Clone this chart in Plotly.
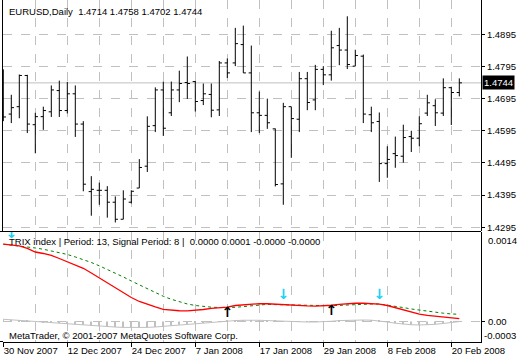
import plotly.graph_objects as go

# ---------------- data ----------------
DATES = [
    "2007.11.30",
    "2007.12.03", "2007.12.04", "2007.12.05", "2007.12.06", "2007.12.07",
    "2007.12.10", "2007.12.11", "2007.12.12", "2007.12.13", "2007.12.14",
    "2007.12.17", "2007.12.18", "2007.12.19", "2007.12.20", "2007.12.21",
    "2007.12.24", "2007.12.26", "2007.12.27", "2007.12.28", "2007.12.31",
    "2008.01.02", "2008.01.03", "2008.01.04",
    "2008.01.07", "2008.01.08", "2008.01.09", "2008.01.10", "2008.01.11",
    "2008.01.14", "2008.01.15", "2008.01.16", "2008.01.17", "2008.01.18",
    "2008.01.21", "2008.01.22", "2008.01.23", "2008.01.24", "2008.01.25",
    "2008.01.28", "2008.01.29", "2008.01.30", "2008.01.31", "2008.02.01",
    "2008.02.04", "2008.02.05", "2008.02.06", "2008.02.07", "2008.02.08",
    "2008.02.11", "2008.02.12", "2008.02.13", "2008.02.14", "2008.02.15",
    "2008.02.18", "2008.02.19", "2008.02.20", "2008.02.21",
]
OPEN = [1.4638, 1.4647, 1.4670, 1.4767, 1.4614, 1.4639, 1.4654, 1.4720, 1.4658, 1.4710,
        1.4616, 1.4406, 1.4410, 1.4410, 1.4373, 1.4320, 1.4373, 1.4417, 1.4485, 1.4611,
        1.4722, 1.4651, 1.4722, 1.4745, 1.4748, 1.4689, 1.4708, 1.4660, 1.4806, 1.4806,
        1.4863, 1.4775, 1.4651, 1.4643, 1.4601, 1.4430, 1.4670, 1.4631, 1.4757, 1.4691,
        1.4786, 1.4769, 1.4860, 1.4846, 1.4796, 1.4827, 1.4645, 1.4624, 1.4493, 1.4524,
        1.4516, 1.4577, 1.4572, 1.4650, 1.4673, 1.4650, 1.4729, 1.4714]
HIGH = [1.4786, 1.4707, 1.4770, 1.4769, 1.4651, 1.4670, 1.4736, 1.4751, 1.4747, 1.4736,
        1.4625, 1.4454, 1.4434, 1.4423, 1.4391, 1.4410, 1.4410, 1.4507, 1.4640, 1.4730,
        1.4748, 1.4748, 1.4782, 1.4826, 1.4750, 1.4742, 1.4742, 1.4812, 1.4820, 1.4915,
        1.4922, 1.4860, 1.4717, 1.4695, 1.4602, 1.4682, 1.4670, 1.4778, 1.4778, 1.4800,
        1.4796, 1.4906, 1.4915, 1.4951, 1.4847, 1.4832, 1.4670, 1.4652, 1.4547, 1.4577,
        1.4614, 1.4595, 1.4640, 1.4707, 1.4693, 1.4758, 1.4732, 1.4758]
LOW = [1.4625, 1.4619, 1.4634, 1.4588, 1.4525, 1.4598, 1.4638, 1.4638, 1.4649, 1.4576,
       1.4407, 1.4331, 1.4365, 1.4325, 1.4310, 1.4320, 1.4369, 1.4417, 1.4467, 1.4591,
       1.4579, 1.4641, 1.4684, 1.4694, 1.4655, 1.4675, 1.4637, 1.4641, 1.4759, 1.4796,
       1.4775, 1.4591, 1.4588, 1.4601, 1.4422, 1.4365, 1.4511, 1.4591, 1.4659, 1.4659,
       1.4737, 1.4751, 1.4799, 1.4787, 1.4796, 1.4619, 1.4591, 1.4436, 1.4449, 1.4480,
       1.4496, 1.4529, 1.4547, 1.4641, 1.4610, 1.4641, 1.4613, 1.4702]
CLOSE = [1.4638, 1.4667, 1.4767, 1.4616, 1.4639, 1.4658, 1.4722, 1.4658, 1.4710, 1.4616,
         1.4429, 1.4413, 1.4410, 1.4373, 1.4320, 1.4383, 1.4407, 1.4481, 1.4609, 1.4722,
         1.4603, 1.4722, 1.4742, 1.4742, 1.4686, 1.4710, 1.4659, 1.4806, 1.4775, 1.4866,
         1.4775, 1.4651, 1.4643, 1.4620, 1.4428, 1.4670, 1.4633, 1.4757, 1.4683, 1.4786,
         1.4769, 1.4853, 1.4846, 1.4801, 1.4829, 1.4647, 1.4620, 1.4493, 1.4506, 1.4518,
         1.4574, 1.4572, 1.4617, 1.4682, 1.4651, 1.4729, 1.4714, 1.4744]

TRIX = [0.001205, 0.001193, 0.001180, 0.001138, 0.001083, 0.001060, 0.001029, 0.000982,
        0.000932, 0.000881, 0.000829, 0.000756, 0.000678, 0.000600, 0.000530, 0.000452,
        0.000374, 0.000312, 0.000265, 0.000226, 0.000190, 0.000175, 0.000167, 0.000164,
        0.000171, 0.000187, 0.000203, 0.000214, 0.000223, 0.000249, 0.000260, 0.000270,
        0.000277, 0.000276, 0.000268, 0.000259, 0.000251, 0.000245, 0.000242, 0.000240,
        0.000242, 0.000253, 0.000267, 0.000279, 0.000284, 0.000284, 0.000281, 0.000271,
        0.000249, 0.000217, 0.000179, 0.000143, 0.000114, 0.000094, 0.000083, 0.000070,
        0.000055, 0.000045]
SIGNAL = [0.001205, 0.001193, 0.001180, 0.001166, 0.001146, 0.001126, 0.001102, 0.001076,
          0.001045, 0.001006, 0.000967, 0.000920, 0.000868, 0.000814, 0.000756, 0.000694,
          0.000631, 0.000569, 0.000507, 0.000447, 0.000393, 0.000346, 0.000304, 0.000273,
          0.000249, 0.000234, 0.000223, 0.000217, 0.000215, 0.000221, 0.000232, 0.000243,
          0.000254, 0.000267, 0.000263, 0.000260, 0.000257, 0.000253, 0.000248, 0.000245,
          0.000243, 0.000245, 0.000251, 0.000259, 0.000265, 0.000270, 0.000273, 0.000273,
          0.000257, 0.000239, 0.000217, 0.000195, 0.000176, 0.000159, 0.000143, 0.000129,
          0.000117, 0.000112]
HIST = [0.000034, 0.000028, 0.000020, 0.000011, 0.000000, -0.000009, -0.000019, -0.000028,
        -0.000037, -0.000047, -0.000056, -0.000065, -0.000073, -0.000081, -0.000087, -0.000092,
        -0.000095, -0.000095, -0.000092, -0.000086, -0.000076, -0.000065, -0.000053, -0.000039,
        -0.000027, -0.000016, -0.000006, 0.000002, 0.000008, 0.000014, 0.000019, 0.000022,
        0.000019, 0.000014, 0.000008, 0.000003, -0.000002, -0.000005, -0.000008, -0.000008,
        -0.000005, 0.000003, 0.000014, 0.000020, 0.000023, 0.000023, 0.000020, 0.000011,
        -0.000008, -0.000027, -0.000044, -0.000051, -0.000055, -0.000051, -0.000044, -0.000031,
        -0.000016, -0.000002]

DOWN_ARROW_IDX = [1, 35, 47]
DOWN_ARROW_VAL = [0.00135, 0.00040, 0.00040]
UP_ARROW_IDX = [28, 41]
UP_ARROW_VAL = [0.00012, 0.00015]

PRICE_TICKS = [1.4295, 1.4395, 1.4495, 1.4595, 1.4695, 1.4795, 1.4895]
DATE_TICK_LABELS = ["30 Nov 2007", "12 Dec 2007", "24 Dec 2007", "7 Jan 2008",
                    "17 Jan 2008", "29 Jan 2008", "8 Feb 2008", "20 Feb 2008"]
IND_LABELS = ["0.0014", "0.00", "-0.0003"]

# ---------------- layout geometry ----------------
W, H = 520, 360
FONT = "Liberation Sans"
FS = 9.5
X_LEFT_PX, X_RIGHT_PX = 3, 481
BAR_PX = 8.0
FIRST_BAR_PX = 3.3
xr = [-(FIRST_BAR_PX - X_LEFT_PX) / BAR_PX, (X_RIGHT_PX - FIRST_BAR_PX) / BAR_PX]
xdom = [X_LEFT_PX / W, X_RIGHT_PX / W]

MAIN_TOP, MAIN_BOT = 0, 231
IND_TOP, IND_BOT = 232, 342
main_dom = [1 - MAIN_BOT / H, 1 - MAIN_TOP / H]
ind_dom = [1 - IND_BOT / H, 1 - IND_TOP / H]
main_range = [1.4895 - (MAIN_BOT - 34.3) / 3216.7, 1.4895 + 34.3 / 3216.7]
ind_range = [-0.00032, 0.001395]

GRID = "#c0c0c0"

fig = go.Figure()

fig.add_trace(go.Ohlc(
    x=DATES, open=OPEN, high=HIGH, low=LOW, close=CLOSE,
    increasing=dict(line=dict(color="black", width=1)),
    decreasing=dict(line=dict(color="black", width=1)),
    tickwidth=0.33, xaxis="x", yaxis="y", showlegend=False, hoverinfo="skip",
))

fig.add_trace(go.Bar(
    x=DATES, y=HIST, width=0.13, marker=dict(color=GRID, line=dict(width=0)),
    xaxis="x2", yaxis="y2", showlegend=False, hoverinfo="skip",
))
fig.add_trace(go.Scatter(
    x=DATES, y=HIST, mode="lines", line=dict(color=GRID, width=1),
    xaxis="x3", yaxis="y2", showlegend=False, hoverinfo="skip",
))
fig.add_trace(go.Scatter(
    x=DATES, y=SIGNAL, mode="lines", line=dict(color="#008000", width=1, dash="3px,3px"),
    xaxis="x2", yaxis="y2", showlegend=False, hoverinfo="skip",
))
fig.add_trace(go.Scatter(
    x=DATES, y=TRIX, mode="lines", line=dict(color="#ff0000", width=1.3),
    xaxis="x2", yaxis="y2", showlegend=False, hoverinfo="skip",
))
fig.add_trace(go.Scatter(
    x=[DATES[i] for i in DOWN_ARROW_IDX], y=DOWN_ARROW_VAL, mode="text",
    text=["<b>↓</b>"] * len(DOWN_ARROW_IDX),
    textfont=dict(family="DejaVu Sans", size=14, color="#19d2f5"),
    xaxis="x2", yaxis="y2", showlegend=False, hoverinfo="skip",
))
fig.add_trace(go.Scatter(
    x=[DATES[i] for i in UP_ARROW_IDX], y=UP_ARROW_VAL, mode="text",
    text=["<b>↑</b>"] * len(UP_ARROW_IDX),
    textfont=dict(family="DejaVu Sans", size=14, color="black"),
    xaxis="x2", yaxis="y2", showlegend=False, hoverinfo="skip",
))

axis_common = dict(type="category", range=xr, domain=xdom, fixedrange=True, automargin=False)

fig.update_layout(
    width=W, height=H,
    margin=dict(l=0, r=0, t=0, b=0, autoexpand=False),
    paper_bgcolor="white", plot_bgcolor="white",
    font=dict(family=FONT, size=FS, color="black"),
    showlegend=False,
    xaxis=dict(**axis_common, anchor="y", tickvals=DATES[4::4], showticklabels=False,
               ticks="", showgrid=True, gridcolor=GRID, griddash="dash", gridwidth=1,
               showline=False, zeroline=False, rangeslider=dict(visible=False)),
    yaxis=dict(domain=main_dom, range=main_range, side="right", anchor="x",
               tickvals=PRICE_TICKS, tickformat=".4f", ticks="outside", ticklen=3,
               tickcolor="black", showgrid=True, gridcolor=GRID, griddash="dash",
               showline=True, linecolor="black", linewidth=1, zeroline=False,
               automargin=False,
               tickfont=dict(family=FONT, size=FS, color="black"), fixedrange=True),
    xaxis2=dict(**axis_common, anchor="y2", tickvals=DATES[4::4], showticklabels=False,
                ticks="", showgrid=True, gridcolor=GRID, griddash="dash",
                showline=True, linecolor="black", linewidth=1, zeroline=False),
    xaxis3=dict(type="category", range=xr, overlaying="x2", anchor="y2", side="bottom",
                tickvals=DATES[0::8], ticktext=DATE_TICK_LABELS, ticks="outside",
                ticklen=4, tickcolor="black", ticklabelposition="outside right",
                tickangle=0, automargin=False,
                showgrid=False, showline=False, zeroline=False,
                tickfont=dict(family=FONT, size=FS, color="black"), fixedrange=True),
    yaxis2=dict(domain=ind_dom, range=ind_range, side="right", anchor="x2",
                tickvals=[0], showticklabels=False, ticks="outside", ticklen=3,
                tickcolor="black", showgrid=True, gridcolor=GRID, griddash="dash",
                showline=True, linecolor="black", linewidth=1, zeroline=False,
                automargin=False, fixedrange=True),
)

# frame lines
fig.add_shape(type="line", xref="paper", yref="paper", x0=0, x1=X_RIGHT_PX / W,
              y0=1 - 231.5 / H, y1=1 - 231.5 / H, line=dict(color="black", width=1))
fig.add_shape(type="line", xref="paper", yref="paper", x0=0, x1=X_LEFT_PX / W,
              y0=1 - 341.5 / H, y1=1 - 341.5 / H, line=dict(color="black", width=1))
fig.add_shape(type="line", xref="paper", yref="paper", x0=2.5 / W, x1=2.5 / W,
              y0=main_dom[0], y1=main_dom[1], line=dict(color="black", width=1))
# last price line
fig.add_shape(type="line", xref="x domain", yref="y", x0=0, x1=1,
              y0=CLOSE[-1], y1=CLOSE[-1], line=dict(color=GRID, width=1), layer="below")

# texts
fig.add_annotation(xref="paper", yref="paper", x=7 / W, y=1 - 11 / H, xanchor="left",
                   yanchor="middle", showarrow=False,
                   text=f"EURUSD,Daily  {OPEN[-1]:.4f} {HIGH[-1]:.4f} {LOW[-1]:.4f} {CLOSE[-1]:.4f}",
                   font=dict(family=FONT, size=FS, color="black"))
fig.add_annotation(xref="paper", yref="y", x=481.5 / W, y=CLOSE[-1], xanchor="left",
                   yanchor="middle", showarrow=False, text=f"{CLOSE[-1]:.4f}",
                   bgcolor="black", borderpad=1,
                   font=dict(family=FONT, size=FS, color="white"))
fig.add_annotation(xref="paper", yref="paper", x=7 / W, y=1 - 241.7 / H, xanchor="left",
                   yanchor="middle", showarrow=False,
                   text="TRIX index | Period: 13, Signal Period: 8 |  0.0000 0.0001 -0.0000 -0.0000",
                   font=dict(family=FONT, size=FS, color="black"))
fig.add_annotation(xref="paper", yref="paper", x=7 / W, y=1 - 335 / H, xanchor="left",
                   yanchor="middle", showarrow=False,
                   text="MetaTrader, © 2001-2007 MetaQuotes Software Corp.",
                   font=dict(family=FONT, size=FS, color="black"))
for txt, ypx, xpx in zip(IND_LABELS, [240, 321, 335], [486, 486, 482]):
    fig.add_annotation(xref="paper", yref="paper", x=xpx / W, y=1 - ypx / H,
                       xanchor="left", yanchor="middle", showarrow=False, text=txt,
                       font=dict(family=FONT, size=FS, color="black"))

fig.write_html(
    "out.html",
    config={"displayModeBar": False},
    post_script="document.body.style.margin='0';document.body.style.overflow='hidden';",
)
